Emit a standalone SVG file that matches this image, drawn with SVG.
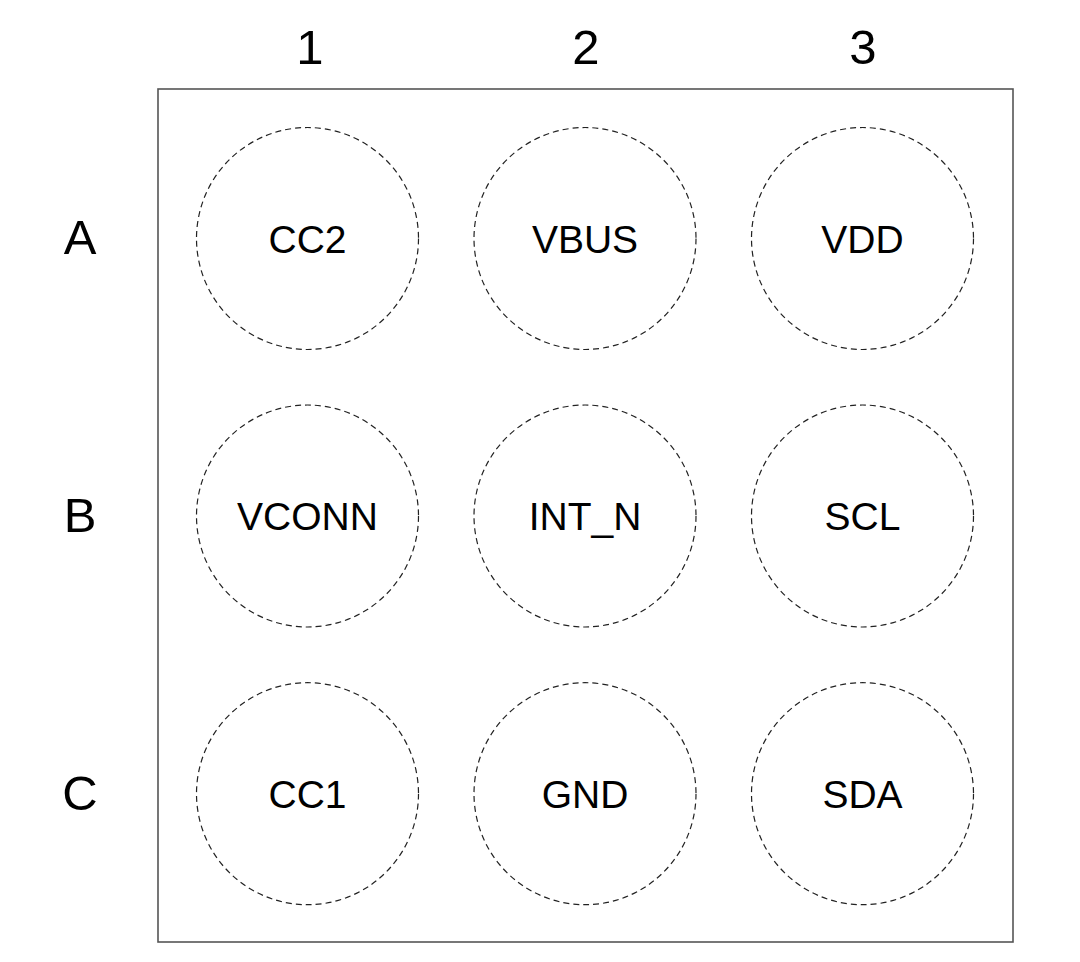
<svg xmlns="http://www.w3.org/2000/svg" width="1080" height="962" viewBox="0 0 1080 962">
<style>
.lbl{font-family:"Liberation Sans",Arial,sans-serif;font-size:49px;fill:#000;text-anchor:middle}
.pin{font-family:"Liberation Sans",Arial,sans-serif;font-size:39px;fill:#000;text-anchor:middle}
.ball{fill:none;stroke:#222;stroke-width:1.2;stroke-dasharray:6 4}
</style>
<rect width="1080" height="962" fill="#fff"/>
<g id="package"><rect x="158" y="89" width="855" height="853" fill="none" stroke="#555" stroke-width="1.6"/></g>
<g id="col-labels">
<text class="lbl" x="310" y="64">1</text>
<text class="lbl" x="586" y="64">2</text>
<text class="lbl" x="863" y="64">3</text>
</g>
<g id="row-labels">
<text class="lbl" x="80" y="254">A</text>
<text class="lbl" x="80" y="532">B</text>
<text class="lbl" x="80" y="810">C</text>
</g>
<g id="A1"><circle class="ball" cx="307.5" cy="238.5" r="111"/><text class="pin" x="307.5" y="252.5">CC2</text></g>
<g id="A2"><circle class="ball" cx="585" cy="238.5" r="111"/><text class="pin" x="585" y="252.5">VBUS</text></g>
<g id="A3"><circle class="ball" cx="862.5" cy="238.5" r="111"/><text class="pin" x="862.5" y="252.5">VDD</text></g>
<g id="B1"><circle class="ball" cx="307.5" cy="516" r="111"/><text class="pin" x="307.5" y="530">VCONN</text></g>
<g id="B2"><circle class="ball" cx="585" cy="516" r="111"/><text class="pin" x="585" y="530">INT_N</text></g>
<g id="B3"><circle class="ball" cx="862.5" cy="516" r="111"/><text class="pin" x="862.5" y="530">SCL</text></g>
<g id="C1"><circle class="ball" cx="307.5" cy="793.7" r="111"/><text class="pin" x="307.5" y="807.7">CC1</text></g>
<g id="C2"><circle class="ball" cx="585" cy="793.7" r="111"/><text class="pin" x="585" y="807.7">GND</text></g>
<g id="C3"><circle class="ball" cx="862.5" cy="793.7" r="111"/><text class="pin" x="862.5" y="807.7">SDA</text></g>
<g id="connectors"/>
</svg>
